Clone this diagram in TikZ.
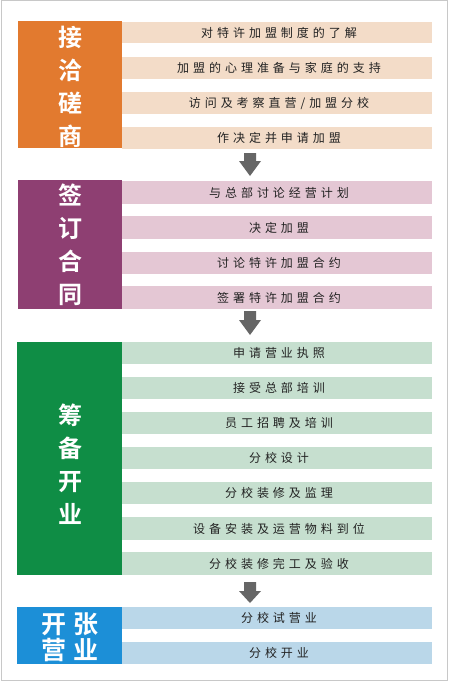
\documentclass[tikz,border=0pt]{standalone}
\usepackage{fontspec}
\newfontfamily\cjk[LetterSpace=33]{Noto Sans CJK SC}
\newfontfamily\cjkb[BoldFont={Noto Sans CJK SC Bold}]{Noto Sans CJK SC}
\definecolor{orgA}{HTML}{E27A2F}
\definecolor{orgB}{HTML}{F3DCC8}
\definecolor{purA}{HTML}{8E3F72}
\definecolor{purB}{HTML}{E4C7D4}
\definecolor{grnA}{HTML}{0F8D45}
\definecolor{grnB}{HTML}{C6DFCF}
\definecolor{bluA}{HTML}{1C8FD7}
\definecolor{bluB}{HTML}{BAD7E9}
\definecolor{arrowgrey}{HTML}{666666}
\definecolor{txt}{HTML}{222222}
\begin{document}
\begin{tikzpicture}[x=1pt,y=-1pt,
  bartext/.style={text=txt, font=\cjk\fontsize{12}{12}\selectfont, inner sep=0pt, anchor=center},
  label/.style={text=white, font=\cjkb\bfseries\fontsize{24}{33}\selectfont, align=center, inner sep=0pt}]
\useasboundingbox (0,0) rectangle (450,682);
\fill[white] (0,0) rectangle (450,682);
\draw[draw={rgb,255:red,200;green,200;blue,200}, line width=1pt] (1,1) rectangle (447,680);

% helper: bar rows
\newcommand{\barrow}[5]{% name, color, ytop, ybot, text
  \fill[#2] (122,#3) rectangle (432,#4);
  \node[bartext] (#1) at (279,{(#3+#4)/2}) {#5};}

% Section 1
\fill[orgA] (18,21) rectangle (122,148);
\node[label] (s1) at (70,87) {接\\洽\\磋\\商};
\barrow{a1}{orgB}{22}{43}{对特许加盟制度的了解}
\barrow{a2}{orgB}{57}{79}{加盟的心理准备与家庭的支持}
\barrow{a3}{orgB}{92}{114}{访问及考察直营/加盟分校}
\barrow{a4}{orgB}{127}{149}{作决定并申请加盟}

% arrow 1
\fill[arrowgrey] (244,153) -- (256,153) -- (256,161) -- (261,161) -- (250,176) -- (239,161) -- (244,161) -- cycle;

% Section 2
\fill[purA] (18,180) rectangle (122,309);
\node[label] (s2) at (70,245) {签\\订\\合\\同};
\barrow{b1}{purB}{181}{204}{与总部讨论经营计划}
\barrow{b2}{purB}{216}{239}{决定加盟}
\barrow{b3}{purB}{252}{274}{讨论特许加盟合约}
\barrow{b4}{purB}{286}{309}{签署特许加盟合约}

% arrow 2
\fill[arrowgrey] (244,311) -- (256,311) -- (256,320) -- (261,320) -- (250,335) -- (239,320) -- (244,320) -- cycle;

% Section 3
\fill[grnA] (17,342) rectangle (122,575);
\node[label] (s3) at (70,464) {筹\\备\\开\\业};
\barrow{c1}{grnB}{342}{364}{申请营业执照}
\barrow{c2}{grnB}{377}{399}{接受总部培训}
\barrow{c3}{grnB}{412}{434}{员工招聘及培训}
\barrow{c4}{grnB}{447}{469}{分校设计}
\barrow{c5}{grnB}{482}{504}{分校装修及监理}
\barrow{c6}{grnB}{517}{540}{设备安装及运营物料到位}
\barrow{c7}{grnB}{552}{575}{分校装修完工及验收}

% arrow 3
\fill[arrowgrey] (244,582) -- (256,582) -- (256,591) -- (261,591) -- (250,603) -- (239,591) -- (244,591) -- cycle;

% Section 4
\fill[bluA] (17,607) rectangle (122,664);
\node[label, font=\cjkb\bfseries\fontsize{25}{26}\selectfont] (s4) at (70,637) {开\hspace{7pt}张\\营\hspace{7pt}业};
\barrow{d1}{bluB}{607}{629}{分校试营业}
\barrow{d2}{bluB}{642}{664}{分校开业}
\end{tikzpicture}
\end{document}
